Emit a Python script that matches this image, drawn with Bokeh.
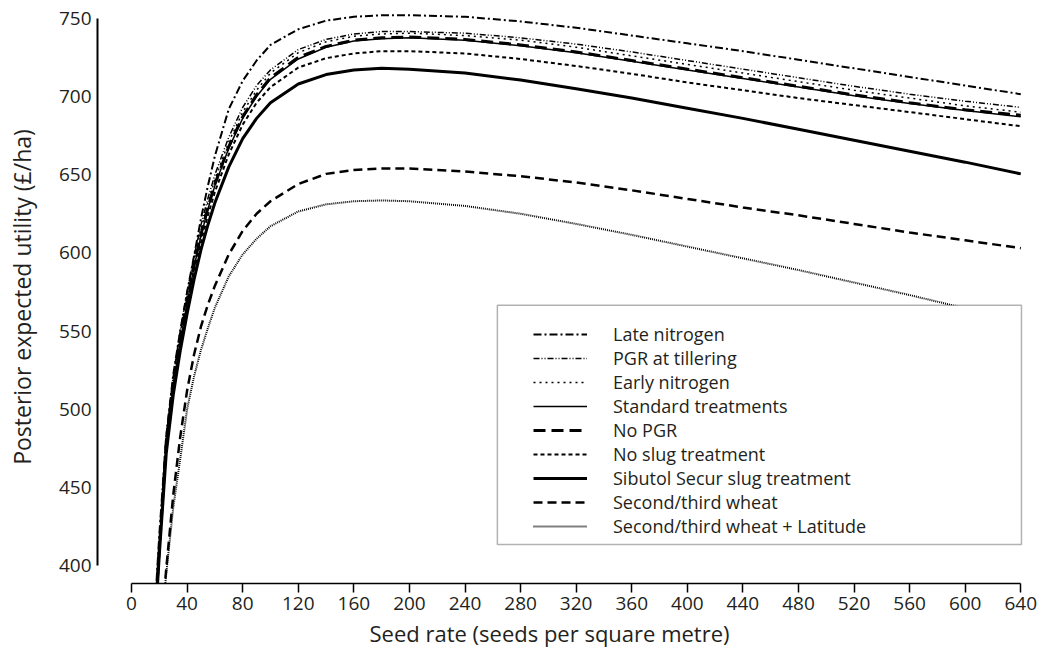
from bokeh.plotting import figure
from bokeh.models import Range1d, FixedTicker, Legend, LegendItem, BoxAnnotation, Title
from bokeh.embed import file_html
from bokeh.resources import INLINE

# ---- data ----
x_ticks = [0, 40, 80, 120, 160, 200, 240, 280, 320, 360, 400, 440, 480, 520, 560, 600, 640]
y_ticks = [400, 450, 500, 550, 600, 650, 700, 750]

seed_main = [18, 20, 25, 30, 35, 40, 45, 50, 55, 60, 70, 80, 90, 100, 120, 140, 160, 180, 200,
             240, 280, 320, 360, 400, 440, 480, 520, 560, 600, 640]
seed_wheat = [22, 24, 25, 30, 35, 40, 45, 50, 55, 60, 70, 80, 90, 100, 120, 140, 160, 180, 200,
              240, 280, 320, 360, 400, 440, 480, 520, 560, 600, 640]

late_nitrogen = [390, 420, 483, 522, 550, 575, 598, 622, 643, 662, 692, 710, 723, 733, 743, 748.5, 751, 752, 752,
                 751, 748, 744, 739, 734, 729, 723.5, 718, 712.5, 707, 701.5]
pgr_tillering = [386, 416, 484, 521, 550, 575, 598, 618, 635, 650, 674, 693, 707, 717, 730, 736.5, 740, 741.5, 741.5,
                 740.5, 737.5, 733.5, 728.5, 723, 717.5, 712, 706.5, 701.5, 697, 693]
early_nitrogen = [384, 413, 481, 518, 547, 572, 595, 615, 632, 647, 671, 690, 704, 715, 728, 735, 738.5, 740, 740.5,
                  739, 736, 731.5, 726, 720.5, 715, 709.5, 704, 699, 694, 690]
standard = [382, 410, 478, 515, 543, 568, 591, 611, 628, 643, 667, 686, 700, 711, 724, 731.5, 735.5, 737, 737.5,
            736, 732.5, 728, 722.5, 717, 711.5, 706, 700.5, 695.5, 691, 687]
no_pgr = [382, 411, 479, 516, 544, 569, 592, 612, 629, 644, 668, 687, 701, 712, 725, 732, 736, 737.5, 738,
          736.5, 733, 728.5, 723, 717.5, 712, 706.5, 701, 696, 691.5, 688]
no_slug = [380, 409, 476, 513, 541, 565, 588, 607, 624, 639, 663, 682, 696, 706, 718.5, 724.5, 727.5, 729, 729,
           727.5, 724, 719.5, 714.5, 709, 704, 699, 694.5, 690, 685.5, 681]
sibutol = [378, 407, 472, 509, 537, 561, 583, 602, 618, 632, 655, 673, 686, 696, 708, 714, 717, 718, 717.5,
           715, 710.5, 705, 699, 692.5, 686, 679, 672, 665, 658, 650.5]
second_wheat = [365, 388, 398, 445, 482, 512, 535, 553, 567, 579, 599, 614, 625, 633, 644, 650.5, 653, 654, 654,
                652, 649, 645, 640, 634.5, 629, 624, 618.5, 613, 608, 603]
second_wheat_latitude = [362, 385, 395, 437, 468, 500, 521, 538, 552, 565, 585, 599, 609, 617, 626.5, 631, 633, 633.5, 633,
                         630, 625, 618.5, 611.5, 604, 596.5, 589, 581, 573, 564.5, 556]

FONT = "Open Sans"
TXT = "#231f20"

p = figure(width=1039, height=654, output_backend="svg", toolbar_location=None,
           x_range=Range1d(-24.5, 647), y_range=Range1d(388.5, 755),
           min_border_left=97, min_border_right=9, min_border_top=10, min_border_bottom=71)
p.xgrid.visible = False
p.ygrid.visible = False
p.outline_line_color = None
p.background_fill_color = "white"
p.border_fill_color = "white"

xa = p.xaxis[0]
xa.ticker = FixedTicker(ticks=x_ticks)
xa.bounds = (0, 640)
xa.major_tick_out = 9
xa.major_tick_in = 0
xa.minor_tick_out = 0
xa.minor_tick_in = 0
xa.axis_line_width = 1.5
xa.axis_line_color = "black"
xa.major_tick_line_width = 1.5
xa.major_tick_line_color = "black"
xa.major_label_text_font = FONT
xa.major_label_text_font_size = "19px"
xa.major_label_text_color = TXT
xa.major_label_standoff = 4

ya = p.yaxis[0]
ya.ticker = FixedTicker(ticks=y_ticks)
ya.bounds = (400, 750)
ya.major_tick_out = 0
ya.major_tick_in = 0
ya.minor_tick_out = 0
ya.minor_tick_in = 0
ya.axis_line_width = 2
ya.axis_line_color = "black"
ya.major_label_text_font = FONT
ya.major_label_text_font_size = "19px"
ya.major_label_text_color = TXT
ya.major_label_standoff = 6
ya.axis_label = "Posterior expected utility (£/ha)"
ya.axis_label_text_font = FONT
ya.axis_label_text_font_size = "23px"
ya.axis_label_text_font_style = "normal"
ya.axis_label_text_color = TXT
ya.axis_label_standoff = 18

series = [
    ("Late nitrogen", seed_main, late_nitrogen, 2.0, "8 3 2 3"),
    ("PGR at tillering", seed_main, pgr_tillering, 1.5, "6 2 1 2 1 2"),
    ("Early nitrogen", seed_main, early_nitrogen, 1.5, "2 4"),
    ("Standard treatments", seed_main, standard, 1.5, "solid"),
    ("No PGR", seed_main, no_pgr, 3.0, "12 6"),
    ("No slug treatment", seed_main, no_slug, 2.0, "4 3"),
    ("Sibutol Secur slug treatment", seed_main, sibutol, 3.0, "solid"),
    ("Second/third wheat", seed_wheat, second_wheat, 2.5, "9 5"),
    ("Second/third wheat + Latitude", seed_wheat, second_wheat_latitude, 2.0, "1 1"),
]

items = []
for name, xs, ys, w, dash in series:
    r = p.line(xs, ys, line_color="black", line_width=w, line_dash=dash)
    items.append(LegendItem(label=name, renderers=[r]))

box = BoxAnnotation(left=263.3, right=640.5, bottom=413.4, top=566.4,
                    fill_color="white", fill_alpha=1.0, line_color="black", line_width=1.5)
p.add_layout(box)

legend = Legend(items=items, location=(436, 45), glyph_width=54, glyph_height=20, label_height=20,
                label_standoff=26, spacing=0, padding=0, margin=0,
                border_line_alpha=0, background_fill_alpha=0,
                label_text_font=FONT, label_text_font_size="18px", label_text_color=TXT)
p.add_layout(legend)

xtitle = Title(text="Seed rate (seeds per square metre)", align="left", offset=272, standoff=7,
               vertical_align="bottom", text_font=FONT, text_font_size="22px",
               text_font_style="normal", text_color=TXT)
p.add_layout(xtitle, "below")

open("out.html", "w").write(file_html(p, INLINE))
